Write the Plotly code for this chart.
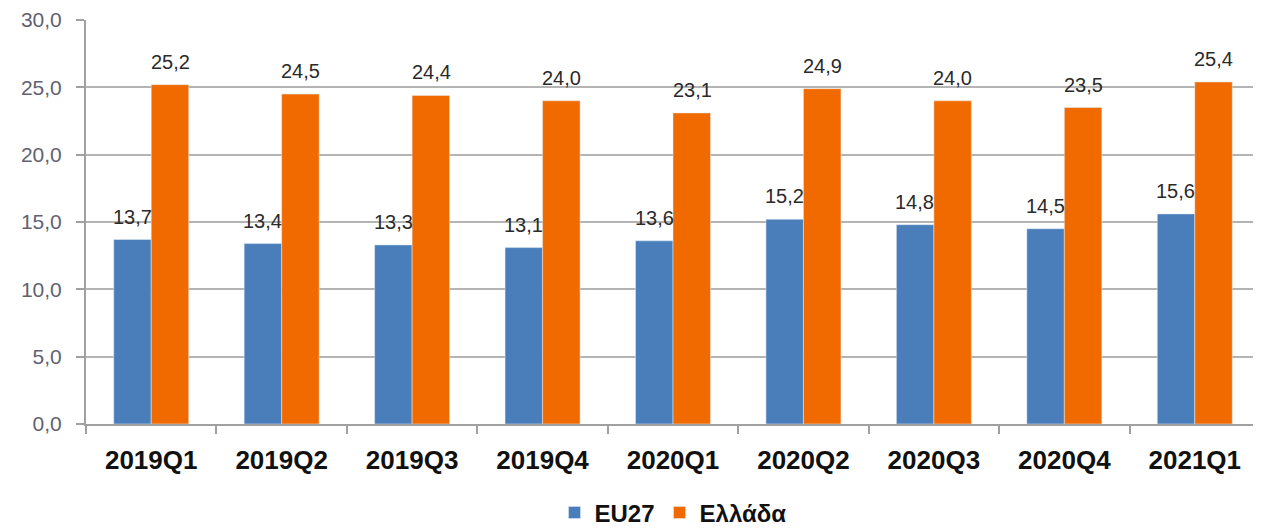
import plotly.graph_objects as go

categories = ["2019Q1", "2019Q2", "2019Q3", "2019Q4", "2020Q1", "2020Q2", "2020Q3", "2020Q4", "2021Q1"]
eu27 = [13.7, 13.4, 13.3, 13.1, 13.6, 15.2, 14.8, 14.5, 15.6]
greece = [25.2, 24.5, 24.4, 24.0, 23.1, 24.9, 24.0, 23.5, 25.4]
series_names = ["EU27", "Ελλάδα"]
colors = ["#4A7EBB", "#F06A00"]

fig = go.Figure()
fig.add_trace(go.Bar(x=categories, y=eu27, name=series_names[0], marker_color=colors[0]))
fig.add_trace(go.Bar(x=categories, y=greece, name=series_names[1], marker_color=colors[1]))

annotations = []
for vals, shift in ((eu27, -19), (greece, 19)):
    for c, v in zip(categories, vals):
        annotations.append(dict(
            x=c, y=v, xref="x", yref="y", text=f"{v:.1f}".replace(".", ","),
            showarrow=False, xshift=shift, yshift=10, yanchor="bottom",
            font=dict(family="Liberation Sans, Arial", size=20, color="#2A2A2A")))

fig.update_layout(
    width=1253, height=523,
    margin=dict(l=78, r=1, t=12, b=107, autoexpand=False),
    plot_bgcolor="white", paper_bgcolor="white",
    barmode="group", bargap=0.425, bargroupgap=0,
    separators=",.",
    annotations=annotations,
    showlegend=True,
    legend=dict(orientation="h", x=0.5, xanchor="center", y=-0.22, yanchor="middle",
                font=dict(family="Liberation Sans, Arial", size=24, color="#111111", weight="bold"),
                itemwidth=30, tracegroupgap=0),
    xaxis=dict(
        showline=True, linecolor="#A0A0A0", linewidth=2,
        ticks="outside", tickson="boundaries", ticklen=8, tickcolor="#A0A0A0", tickwidth=2,
        tickfont=dict(family="Liberation Sans, Arial", size=26, color="#111111", weight="bold"),
        ticklabelstandoff=12,
        showgrid=False,
    ),
    yaxis=dict(
        range=[0, 30], dtick=5, tickformat=".1f",
        showline=True, linecolor="#A0A0A0", linewidth=2,
        ticks="outside", ticklen=8, tickcolor="#A0A0A0", tickwidth=2,
        ticklabelstandoff=10,
        showgrid=True, gridcolor="#B4B4B4", gridwidth=2,
        tickfont=dict(family="Liberation Sans, Arial", size=21, color="#5F6270"),
        zeroline=False,
    ),
)

fig.write_html("out.html")
